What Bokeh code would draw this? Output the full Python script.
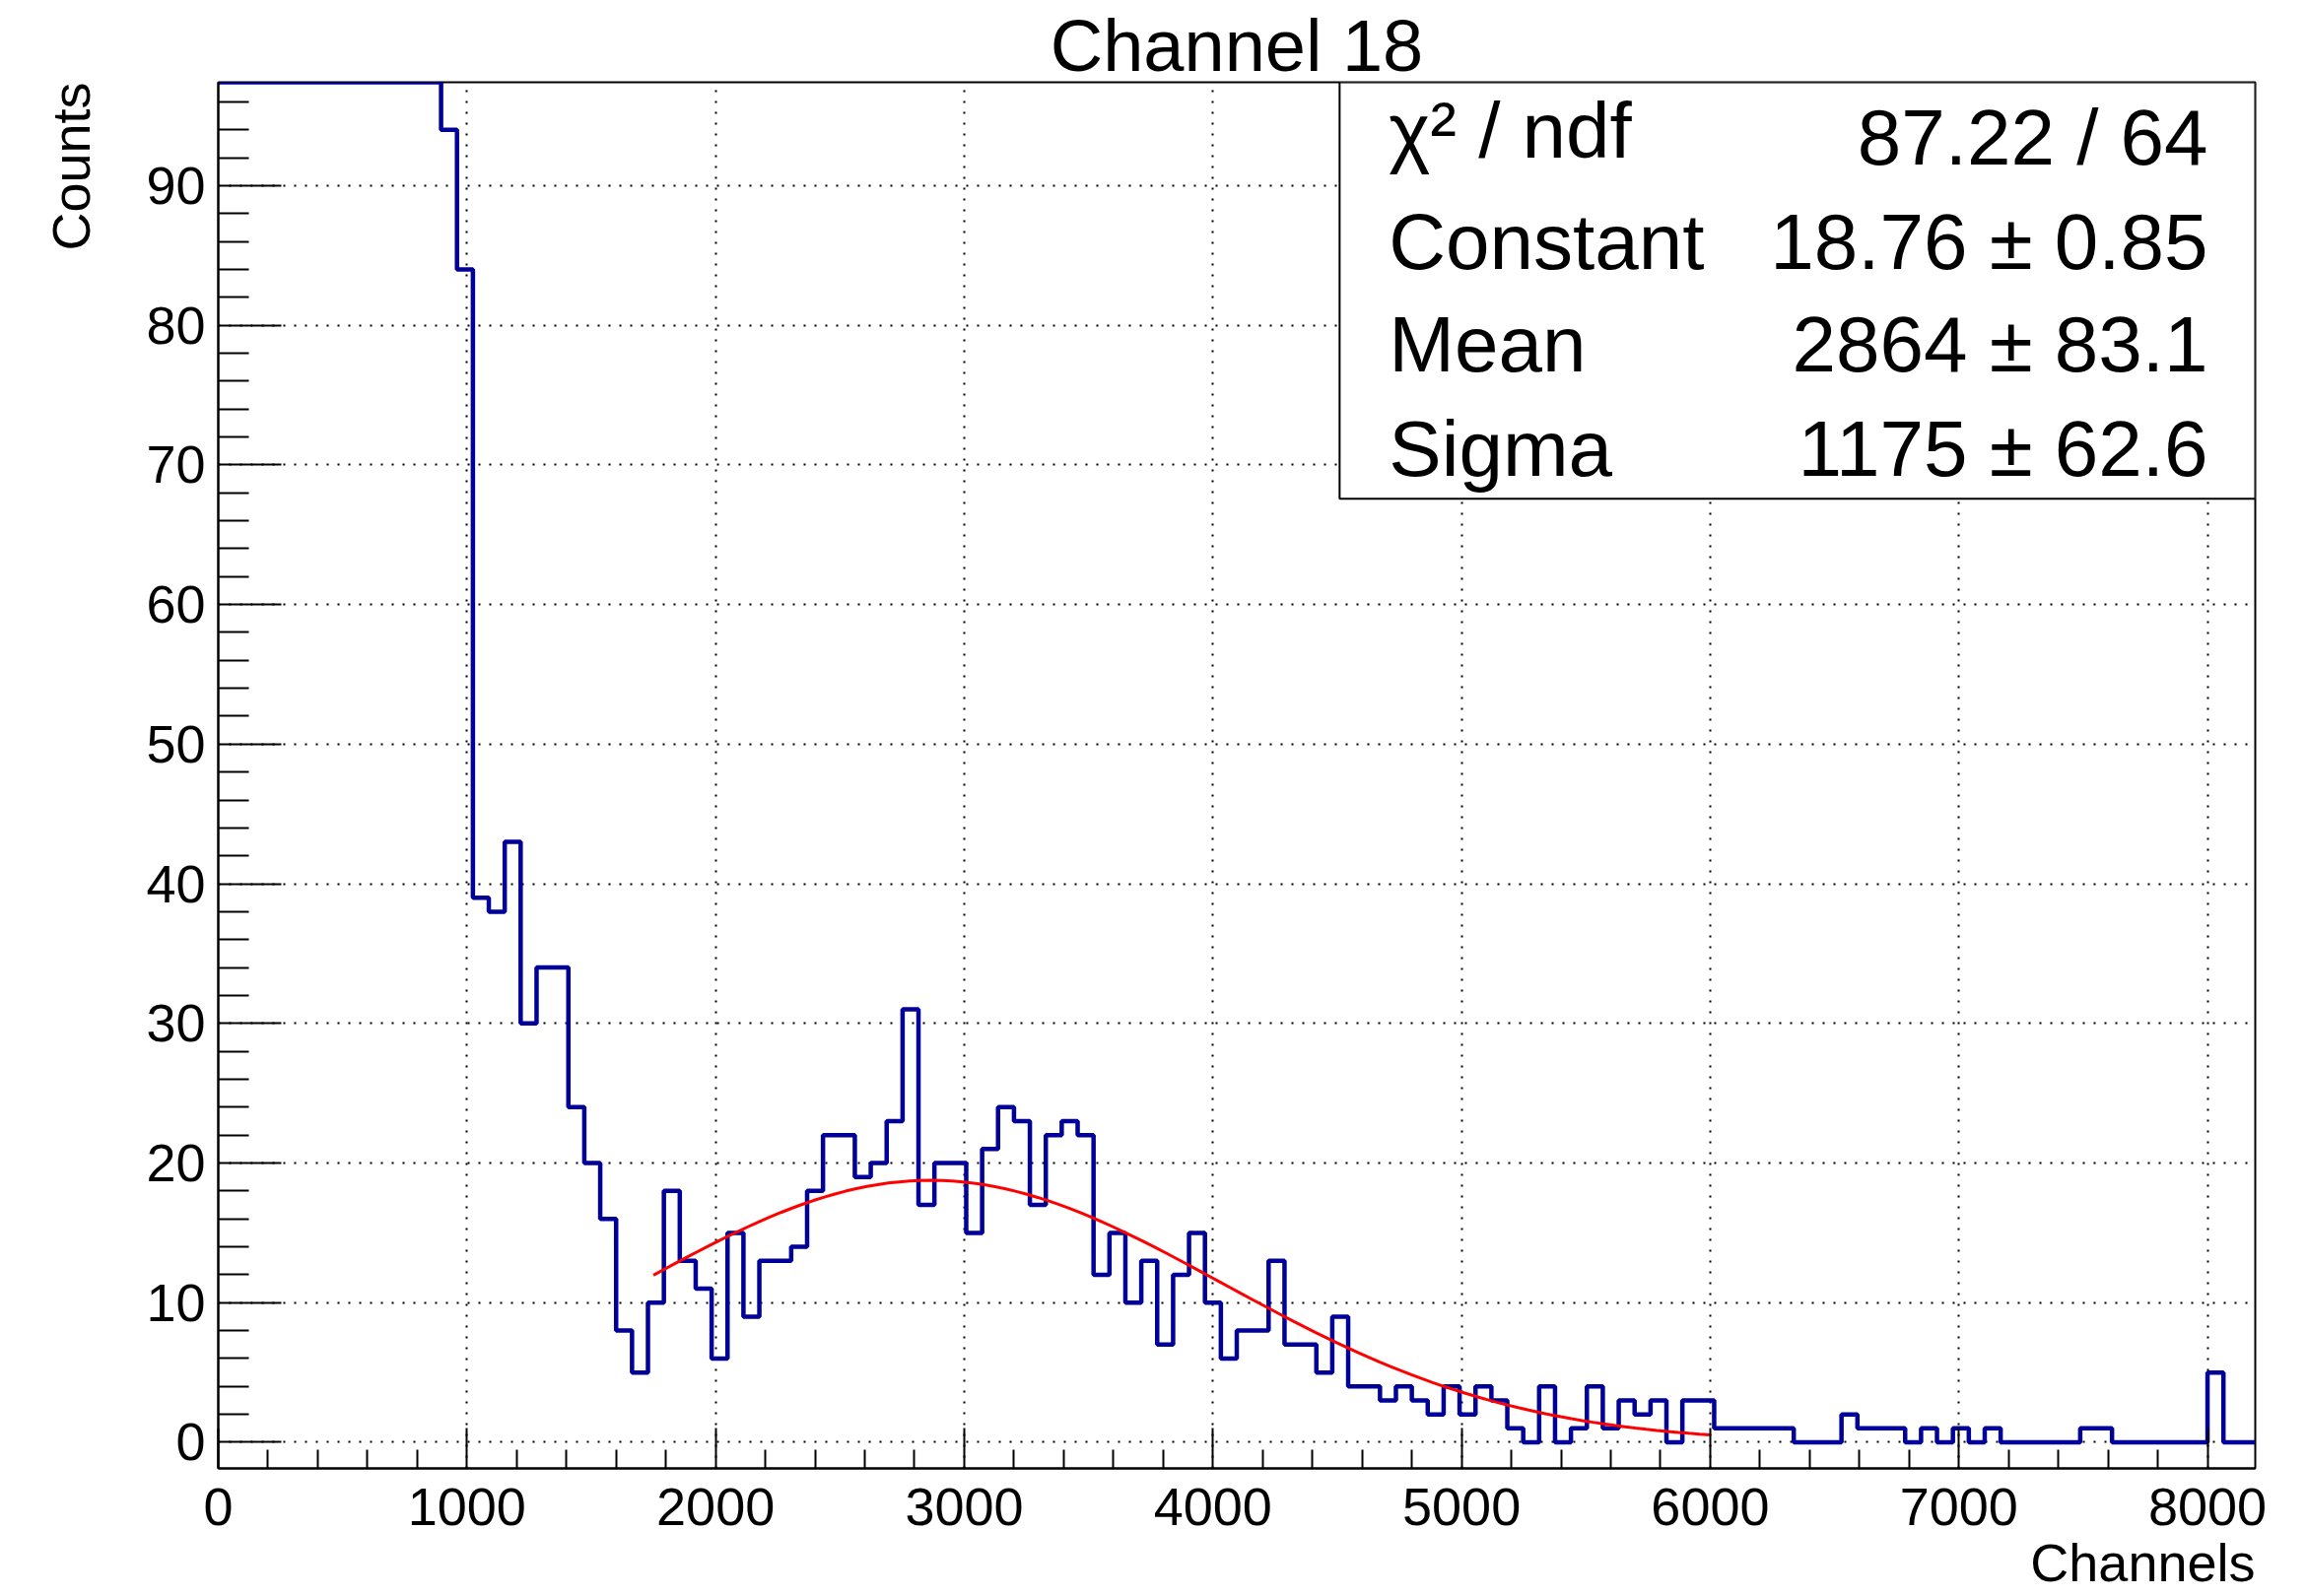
import numpy as np
from bokeh.plotting import figure
from bokeh.models import Range1d, FixedTicker, BoxAnnotation, Label, Title
from bokeh.embed import file_html
from bokeh.resources import INLINE

# ---------------- data ----------------
title_text = "Channel 18"
x_title = "Channels"
y_title = "Counts"

bin_width = 64
n_bins = 128
# bins 0-13 are above the displayed range (clipped at the top of the frame)
counts = [
    160, 190, 210, 230, 240, 235, 220, 200, 180, 160, 140, 125, 110, 100,
    94, 84, 39, 38, 43, 30, 34, 34, 24, 20, 16, 8, 5, 10, 18, 13,
    11, 6, 15, 9, 13, 13, 14, 18, 22, 22, 19, 20, 23, 31, 17, 20,
    20, 15, 21, 24, 23, 17, 22, 23, 22, 12, 15, 10, 13, 7, 12, 15,
    10, 6, 8, 8, 13, 7, 7, 5, 9, 4, 4, 3, 4, 3, 2, 4,
    2, 4, 3, 1, 0, 4, 0, 1, 4, 1, 3, 2, 3, 0, 3, 3,
    1, 1, 1, 1, 1, 0, 0, 0, 2, 1, 1, 1, 0, 1, 0, 1,
    0, 1, 0, 0, 0, 0, 0, 1, 1, 0, 0, 0, 0, 0, 0, 5,
    0, 0,
]

# Gaussian fit result (shown in the statistics box)
fit_constant = 18.76
fit_mean = 2864.0
fit_sigma = 1175.0
fit_range = (1750.0, 6000.0)

stats_names = ["χ² / ndf", "Constant", "Mean", "Sigma"]
stats_values = ["87.22 / 64", "18.76 ± 0.85", "2864 ± 83.1", "1175 ± 62.6"]

x_ticks = [0, 1000, 2000, 3000, 4000, 5000, 6000, 7000, 8000]
x_minor = [v for v in range(200, 8192, 200) if v % 1000 != 0]
y_ticks = [0, 10, 20, 30, 40, 50, 60, 70, 80, 90]
y_minor = [v for v in range(2, 98, 2) if v % 10 != 0]

# ---------------- layout ----------------
W, H = 2341, 1620
FL, FT, FW, FH = 218, 83, 2070, 1407
X0, X1 = 0.0, 8192.0
Y0, Y1 = -1.87, 97.4
FONT = "Liberation Sans"


def dx(px):
    return X0 + (px - FL) / FW * (X1 - X0)


def dy(py):
    return Y1 - (py - FT) / FH * (Y1 - Y0)


p = figure(
    width=W, height=H,
    x_range=Range1d(X0, X1), y_range=Range1d(Y0, Y1),
    output_backend="svg", toolbar_location=None, title=title_text,
    min_border_left=FL, min_border_top=FT,
    min_border_right=W - FL - FW, min_border_bottom=H - FT - FH,
)
p.title.align = "center"
p.title.vertical_align = "bottom"
p.title.standoff = -8
p.title.text_font = FONT
p.title.text_font_size = "74px"
p.title.text_font_style = "normal"
p.title.text_color = "black"

p.background_fill_color = "white"
p.border_fill_color = "white"
p.outline_line_color = "black"
p.outline_line_width = 2

# axes
p.xaxis.ticker = FixedTicker(ticks=x_ticks, minor_ticks=x_minor)
p.yaxis.ticker = FixedTicker(ticks=y_ticks, minor_ticks=y_minor)
for ax in (p.xaxis, p.yaxis):
    ax.axis_line_color = "black"
    ax.axis_line_width = 2
    ax.major_tick_line_color = "black"
    ax.major_tick_line_width = 2
    ax.minor_tick_line_color = "black"
    ax.minor_tick_line_width = 2
    ax.major_tick_out = 0
    ax.minor_tick_out = 0
    ax.major_label_text_font = FONT
    ax.major_label_text_font_size = "54px"
    ax.major_label_text_color = "black"
p.xaxis.major_tick_in = 41
p.xaxis.minor_tick_in = 19
p.yaxis.major_tick_in = 64
p.yaxis.minor_tick_in = 31
p.xaxis.major_label_standoff = 20
p.yaxis.major_label_standoff = 13

# axis titles (ROOT style: right-aligned at the end of each axis)
p.add_layout(Title(text=y_title, align="right", vertical_align="top",
                   standoff=83, text_font=FONT, text_font_size="54px",
                   text_font_style="normal", text_color="black"), "left")
p.add_layout(Title(text=x_title, align="right", vertical_align="bottom",
                   standoff=6, text_font=FONT, text_font_size="54px",
                   text_font_style="normal", text_color="black"), "below")

# grid
for g in (p.xgrid, p.ygrid):
    g.grid_line_color = "black"
    g.grid_line_dash = "2 9"
    g.grid_line_width = 2
    g.grid_line_alpha = 1.0

# histogram outline
edges = np.arange(n_bins + 1) * bin_width
shown = np.minimum(np.array(counts, dtype=float), Y1)
p.step(x=edges, y=np.append(shown, shown[-1]), mode="after",
       line_color="#000099", line_width=4.5)

# fit curve
xf = np.linspace(fit_range[0], fit_range[1], 100)
yf = fit_constant * np.exp(-0.5 * ((xf - fit_mean) / fit_sigma) ** 2)
p.line(xf, yf, line_color="#ff0000", line_width=3)

# statistics box
box = BoxAnnotation(left=dx(1357.5), right=X1, top=Y1, bottom=dy(505.7),
                    fill_color="white", fill_alpha=1.0,
                    line_color="black", line_width=2, line_alpha=1.0)
p.add_layout(box)

STAT_FS = 80
shift = 0.35 * STAT_FS   # anchor correction: text is placed by its middle
left_base = [160, 273.3, 377.3, 483.3]
right_base = [166.7, 273.3, 377.3, 483.3]
for name, val, lb, rb in zip(stats_names, stats_values, left_base, right_base):
    p.add_layout(Label(x=dx(1407.5), y=dy(lb - shift), text=name,
                       text_align="left", text_baseline="alphabetic",
                       text_font=FONT, text_font_size=f"{STAT_FS}px",
                       text_color="black"))
    p.add_layout(Label(x=dx(2240), y=dy(rb - shift), text=val,
                       text_align="right", text_baseline="alphabetic",
                       text_font=FONT, text_font_size=f"{STAT_FS}px",
                       text_color="black"))

open("out.html", "w").write(file_html(p, INLINE))
